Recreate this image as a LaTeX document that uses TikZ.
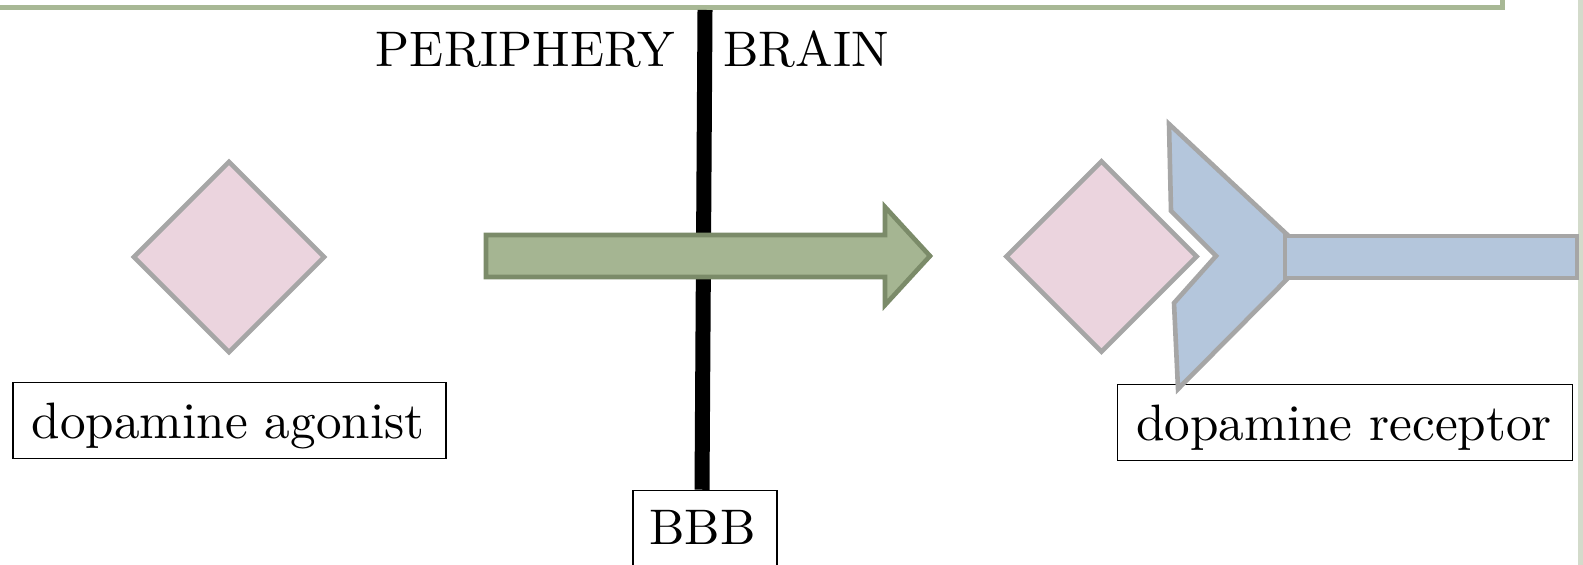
\documentclass[tikz,border=0pt]{standalone}
\usepackage{graphicx}
\usetikzlibrary{shapes.geometric}
\definecolor{boxgreen}{HTML}{A8B895}
\definecolor{stripe}{HTML}{D3DBCB}
\definecolor{pinkfill}{HTML}{EBD4DE}
\definecolor{shapegray}{HTML}{A6A6A6}
\definecolor{bluefill}{HTML}{B4C6DC}
\definecolor{arrowfill}{HTML}{A5B592}
\definecolor{arrowline}{HTML}{7B8B69}
\tikzset{
  textbox/.style={draw=black, line width=0.75pt, fill=white, inner sep=0pt, shape=rectangle},
  ligand/.style={shape=diamond, draw=shapegray, fill=pinkfill, line width=2.3pt, inner sep=0pt, minimum width=96pt, minimum height=96pt},
  receptorpart/.style={draw=shapegray, fill=bluefill, line width=2.3pt},
  lbl/.style={inner sep=0pt, font=\fontsize{10}{12}\selectfont},
  barrier/.style={draw=black, line width=7.5pt},
  movearrow/.style={draw=arrowline, fill=arrowfill, line width=2.3pt}
}
\begin{document}
\begin{tikzpicture}[x=0.5pt,y=-0.5pt]
\useasboundingbox (0,0) rectangle (1583,565);
\clip (0,0) rectangle (1583,565);
% top green panel edge and right stripe
\draw[boxgreen, line width=2.5pt, fill=white] (-20,-60) rectangle (1502,7.5);
\fill[stripe] (1578,0) rectangle (1583,565);
% boxes
\node[textbox, minimum width=216.5pt, minimum height=38pt] (agbox) at (229.7,420.5) {};
\node[textbox, minimum width=227.5pt, minimum height=38pt] (recbox) at (1345,422.5) {};
\node[textbox, minimum width=72pt, minimum height=39pt] (bbb) at (705,529.5) {};
% diamonds
\node[ligand] (agonist) at (229,257) {};
\node[ligand] (bound) at (1101.5,256.5) {};
% receptor
\filldraw[receptorpart] (1169,124) -- (1310,256) -- (1178,389) -- (1174,303) -- (1216,256) -- (1171,211) -- cycle;
\filldraw[receptorpart] (1285,236) rectangle (1577,278);
% blood brain barrier line
\coordinate (bbbtop) at (705,10);
\draw[barrier] (bbbtop) -- ([xshift=-1.5pt]bbb.north);
% arrow
\filldraw[movearrow] (486,235) -- (885,235) -- (885,207) -- (930,256) -- (885,305) -- (885,277) -- (486,277) -- cycle;
% labels
\node[lbl, anchor=base east] (periph) at (675,67) {\scalebox{2.5}{PERIPHERY}};
\node[lbl, anchor=base west] (brain) at (723,67) {\scalebox{2.5}{BRAIN}};
\node[lbl, anchor=base] (agtxt) at (228,439) {\scalebox{2.56}{dopamine agonist}};
\node[lbl, anchor=base] (rectxt) at (1344,441) {\scalebox{2.56}{dopamine receptor}};
\node[lbl, anchor=base] (bbbtxt) at (702.5,545) {\scalebox{2.5}{BBB}};
\end{tikzpicture}
\end{document}
